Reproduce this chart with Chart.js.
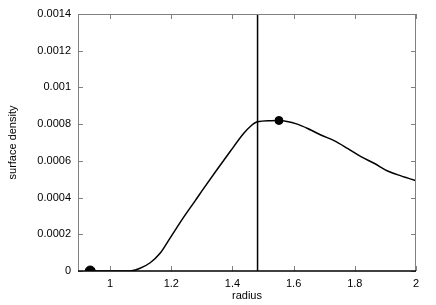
<!DOCTYPE html>
<html>
<head>
<meta charset="utf-8">
<script src="https://cdn.jsdelivr.net/npm/chart.js@4/dist/chart.umd.min.js"></script>
<style>
  html, body { margin: 0; padding: 0; background: #fff; }
  #wrap { width: 436px; height: 305px; }
</style>
</head>
<body>
<div id="wrap"><canvas id="densityChart"></canvas></div>
<script>
var radius = [0.935, 1.0, 1.05, 1.07, 1.098, 1.131, 1.164, 1.197, 1.24, 1.279, 1.306, 1.393, 1.437, 1.46, 1.481, 1.525, 1.552, 1.612, 1.656, 1.689, 1.732, 1.776, 1.82, 1.863, 1.907, 1.951, 2.0];
var density = [0, 0, 0, 0.000001, 0.000015, 0.000045, 0.000098, 0.000182, 0.000292, 0.000385, 0.00045, 0.000652, 0.00075, 0.00079, 0.000813, 0.000819, 0.00082, 0.0008, 0.000768, 0.000741, 0.00071, 0.000668, 0.000623, 0.000587, 0.000545, 0.000518, 0.000492];

var markerRadius = [0.935, 1.552];
var markerDensity = [0, 0.00082];
var markerSize = [5, 4];

var cutRadius = 1.482;

var xTicks = [1, 1.2, 1.4, 1.6, 1.8, 2];
var xTickLabels = ["1", "1.2", "1.4", "1.6", "1.8", "2"];
var yTicks = [0, 0.0002, 0.0004, 0.0006, 0.0008, 0.001, 0.0012, 0.0014];
var yTickLabels = ["0", "0.0002", "0.0004", "0.0006", "0.0008", "0.001", "0.0012", "0.0014"];

(function () {
  var font = { family: "'Liberation Sans', Arial, sans-serif", size: 11 };

  // gnuplot-style frame with inward ticks on all four sides
  var framePlugin = {
    id: "frame",
    afterDatasetsDraw: function (chart) {
      var c = chart.ctx, a = chart.chartArea;
      var xs = chart.scales.x, ys = chart.scales.y;
      c.save();
      c.strokeStyle = "#808080";
      c.lineWidth = 1;
      c.beginPath();
      c.moveTo(a.left + 0.5, a.bottom);
      c.lineTo(a.left + 0.5, a.top + 0.5);
      c.lineTo(a.right - 0.5, a.top + 0.5);
      c.lineTo(a.right - 0.5, a.bottom);
      xTicks.forEach(function (v) {
        var px = Math.round(xs.getPixelForValue(v)) + 0.5;
        c.moveTo(px, a.bottom); c.lineTo(px, a.bottom - 5);
        c.moveTo(px, a.top); c.lineTo(px, a.top + 5);
      });
      yTicks.forEach(function (v) {
        var py = Math.round(ys.getPixelForValue(v)) + 0.5;
        c.moveTo(a.left, py); c.lineTo(a.left + 5, py);
        c.moveTo(a.right, py); c.lineTo(a.right - 5, py);
      });
      c.stroke();
      c.strokeStyle = "#000";
      c.lineWidth = 1.5;
      c.beginPath();
      c.moveTo(a.left, a.bottom);
      c.lineTo(a.right, a.bottom);
      c.stroke();
      c.restore();
    }
  };

  new Chart(document.getElementById("densityChart"), {
    type: "scatter",
    data: {
      datasets: [
        {
          data: radius.map(function (r, i) { return { x: r, y: density[i] }; }),
          showLine: true,
          cubicInterpolationMode: "monotone",
          borderColor: "#000",
          borderWidth: 1.5,
          pointRadius: 0,
          order: 2
        },
        {
          data: [{ x: cutRadius, y: yTicks[0] }, { x: cutRadius, y: yTicks[yTicks.length - 1] }],
          showLine: true,
          borderColor: "#000",
          borderWidth: 1.5,
          pointRadius: 0,
          order: 3
        },
        {
          data: markerRadius.map(function (r, i) { return { x: r, y: markerDensity[i] }; }),
          pointRadius: markerSize,
          backgroundColor: "#000",
          borderColor: "#000",
          order: 1
        }
      ]
    },
    options: {
      responsive: true,
      maintainAspectRatio: false,
      animation: false,
      layout: { padding: { top: 14, right: 20, left: 0, bottom: 0 } },
      plugins: { legend: { display: false }, tooltip: { enabled: false } },
      scales: {
        x: {
          type: "linear",
          min: 0.895,
          max: 2,
          grid: { display: false, drawTicks: false },
          border: { display: false },
          afterBuildTicks: function (s) { s.ticks = xTicks.map(function (v) { return { value: v }; }); },
          afterFit: function (s) { s.height = 34; },
          ticks: {
            color: "#000",
            font: font,
            padding: 6,
            maxRotation: 0,
            callback: function (v) { return xTickLabels[xTicks.indexOf(v)]; }
          },
          title: { display: true, text: "radius", color: "#000", font: font, padding: { top: 0, bottom: 2 } }
        },
        y: {
          min: 0,
          max: 0.0014,
          grid: { display: false, drawTicks: false },
          border: { display: false },
          afterBuildTicks: function (s) { s.ticks = yTicks.map(function (v) { return { value: v }; }); },
          afterFit: function (s) { s.width = 78; },
          ticks: {
            color: "#000",
            font: font,
            padding: 7,
            callback: function (v) { return yTickLabels[yTicks.indexOf(v)]; }
          },
          title: { display: true, text: "surface density", color: "#000", font: font, padding: { top: 6, bottom: 0 } }
        }
      }
    },
    plugins: [framePlugin]
  });
})();
</script>
</body>
</html>
